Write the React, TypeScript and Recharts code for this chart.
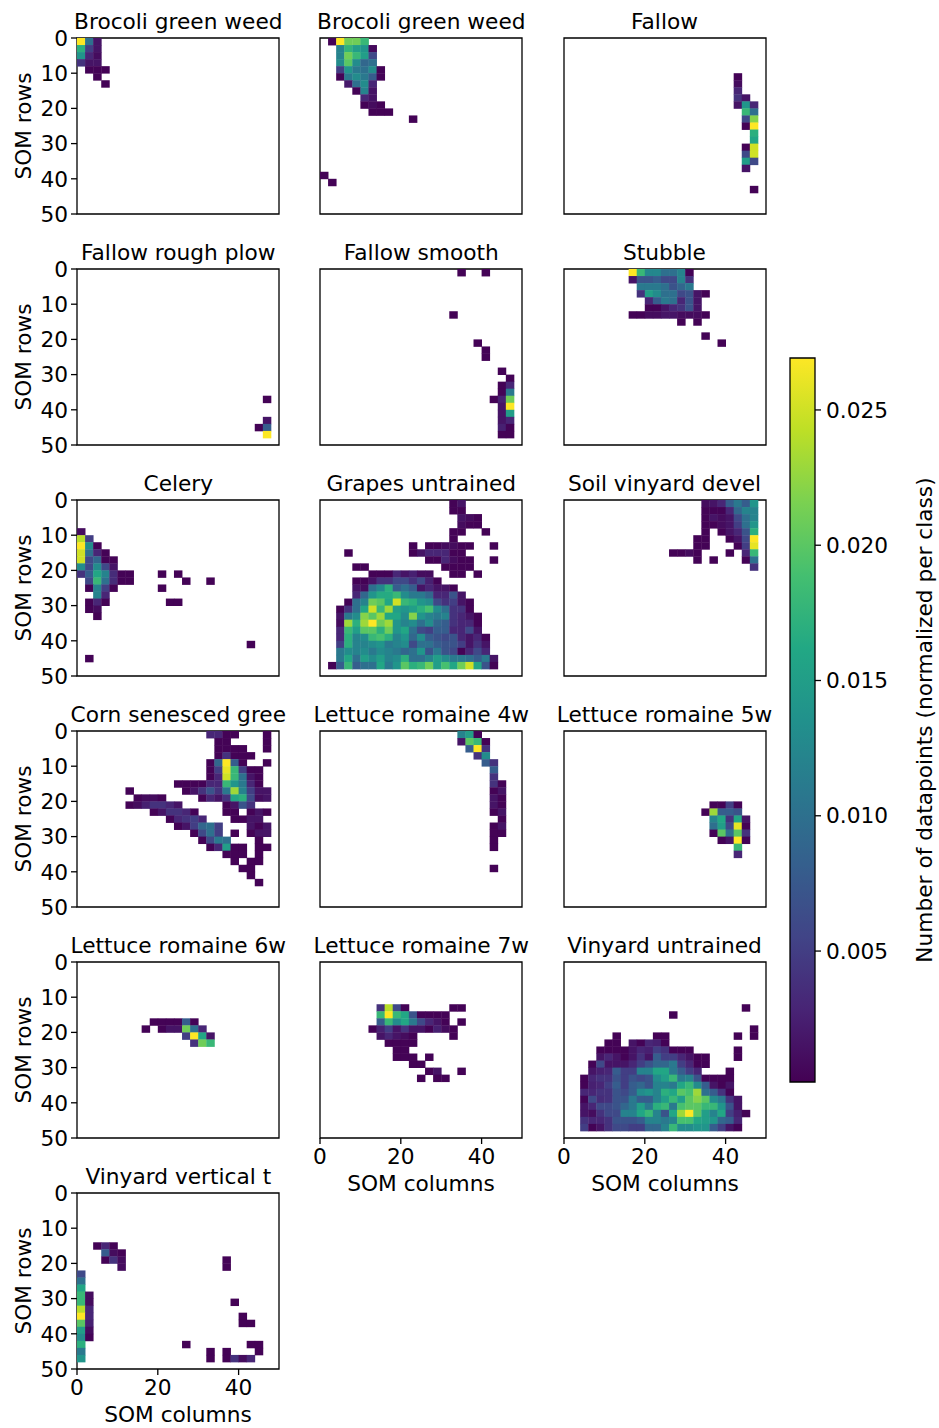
import { ScatterChart, Scatter, XAxis, YAxis, ReferenceArea } from "recharts";

// each entry: [row, first column, ...values], values in units of 0.001
type Run = number[];

const titles = [
  "Brocoli green weed", "Brocoli green weed", "Fallow",
  "Fallow rough plow", "Fallow smooth", "Stubble",
  "Celery", "Grapes untrained", "Soil vinyard devel",
  "Corn senesced gree", "Lettuce romaine 4w", "Lettuce romaine 5w",
  "Lettuce romaine 6w", "Lettuce romaine 7w", "Vinyard untrained",
  "Vinyard vertical t",
];

const brocoli1: Run[] = [
  [0, 0, 27, 10, 1.6], [1, 0, 17, 5, 1.6], [2, 0, 14, 3, 1], [3, 0, 4, 1.6, 1.6],
  [4, 1, 0.3, 0.3, 0.3], [5, 2, 0.3], [6, 3, 0.3],
];
const brocoli2: Run[] = [
  [0, 1, 0.3, 27, 21, 21, 18], [1, 2, 12, 17.5, 15, 14, 0.8], [2, 2, 12, 21, 18, 15, 6],
  [3, 2, 13, 20, 13, 9, 10], [4, 2, 5, 14, 11, 10, 13, 0.3], [5, 2, 0.3, 11, 13, 11, 8, 0.3],
  [6, 3, 2, 10, 13, 3], [7, 4, 0.3, 12, 1.6], [8, 5, 3, 1.6], [9, 5, 0.3, 1, 0.3],
  [10, 6, 0.3, 0.3, 0.3], [11, 11, 0.3], [19, 0, 0.3], [20, 1, 0.3],
];
const fallow: Run[] = [
  [5, 21, 0.3], [6, 21, 1], [7, 21, 3], [8, 21, 4, 1.6], [9, 21, 1.6, 14, 3], [10, 22, 18, 10],
  [11, 22, 6, 22], [12, 22, 0.3, 27], [13, 23, 17], [14, 23, 16], [15, 22, 0.3, 25],
  [16, 22, 6, 25], [17, 22, 15, 6], [18, 22, 1.6], [21, 23, 0.3],
];
const fallowRough: Run[] = [[18, 23, 0.3], [21, 23, 1.6], [22, 22, 0.3, 8], [23, 23, 27]];
const fallowSmooth: Run[] = [
  [0, 17, 0.3], [0, 20, 0.3], [6, 16, 0.3], [10, 19, 0.3], [11, 20, 0.3], [12, 20, 0.3],
  [14, 22, 0.3], [15, 23, 0.3], [16, 22, 0.3, 3], [17, 22, 0.3, 11], [18, 21, 0.3, 2.5, 21],
  [19, 22, 1.6, 27], [20, 22, 1.6, 15], [21, 22, 1.6, 3], [22, 22, 2.5, 0.3], [23, 22, 0.3, 0.3],
];
const stubble: Run[] = [
  [0, 8, 27, 18, 12.5, 12.5, 10, 10, 12, 0.3], [1, 8, 1.6, 7, 7, 8, 6, 6, 12, 4],
  [2, 9, 11, 11, 11, 10, 7, 9, 11], [3, 9, 4, 15, 13, 10, 10, 6, 7, 1.6, 0.3],
  [4, 10, 3, 8, 11, 10, 3, 7, 1.6], [5, 10, 0.3, 0.3, 1.6, 3, 4, 7, 1.6],
  [6, 8, 0.3, 0.3, 1, 1, 1.6, 1.6, 1, 1, 1, 0.3], [7, 14, 0.3], [7, 16, 0.3], [9, 17, 0.3], [10, 19, 0.3],
];
const celery: Run[] = [
  [4, 0, 1], [5, 0, 24, 5], [6, 0, 27, 13, 0.3], [7, 0, 25, 10, 3, 0.3], [8, 0, 25, 6, 9, 0.3, 0.3],
  [9, 0, 13, 6, 13, 6, 1.6], [10, 0, 4, 8, 16, 12, 3.5, 0.3, 0.3], [10, 10, 0.3], [10, 12, 0.3],
  [11, 1, 6, 18, 10, 3.5, 0.3, 0.3], [11, 13, 0.3], [11, 16, 0.3], [12, 1, 0.3, 12, 5, 0.3], [12, 10, 0.3],
  [13, 2, 12, 3], [14, 1, 0.3, 3, 0.3], [14, 11, 0.3, 0.3], [15, 1, 0.3, 1], [16, 2, 0.3], [20, 21, 0.3], [22, 1, 0.3],
];
const grapes: Run[] = [
  [0, 16, 0.3, 1.6], [1, 16, 0.3, 0.3], [2, 17, 1.6, 1, 0.3], [3, 17, 1, 0.3, 0.3], [4, 16, 0.3, 0.3], [4, 20, 0.3],
  [5, 16, 0.3], [6, 11, 0.3], [6, 13, 0.3, 0.3, 1, 1, 0.3, 0.3], [6, 21, 0.3], [7, 3, 0.3],
  [7, 11, 0.3, 1.6, 3, 3, 3, 0.3, 0.3], [8, 13, 0.3, 0.3, 3, 1, 0.3, 0.3], [8, 21, 0.3],
  [9, 4, 0.3, 0.3], [9, 15, 0.3, 0.3, 0.3, 0.3], [10, 6, 0.3, 0.3, 0.3, 3, 1.6, 2.5, 1, 1], [10, 16, 0.3, 0.3], [10, 19, 0.3],
  [11, 4, 0.3, 0.3, 1.6, 4, 4, 6, 6, 4, 6, 2.5, 0.3],
  [12, 4, 1.6, 1, 10, 12.5, 17, 8, 10, 8, 1.6, 3, 1.6, 1.6, 0.3],
  [13, 4, 3, 9, 14, 16.5, 16.5, 18, 13, 11, 11, 9, 3, 3, 7, 1.6],
  [14, 3, 0.3, 10, 12, 21, 20, 16, 25, 18, 17, 14, 13, 6, 4, 5, 1.6, 0.3],
  [15, 2, 0.3, 4, 10, 16, 25, 18, 23, 15, 14, 15, 17, 19, 13, 10, 4, 4, 0.3],
  [16, 2, 1.6, 11, 13, 22, 20, 23, 16, 16, 13, 22, 14, 12, 11, 12, 4, 3, 1.6, 0.3],
  [17, 2, 1, 23, 17, 23, 27, 21, 23, 14, 12, 13, 10, 13, 9, 8, 4, 3, 3, 0.3],
  [18, 2, 3, 18, 15, 20, 20, 17, 21, 14, 16, 10, 6, 5, 8, 8, 3, 3, 6, 1.6],
  [19, 2, 3, 17, 12, 13, 18, 19, 17, 12, 14, 9, 13, 8, 7, 6, 7, 3, 1.6, 3, 0.3],
  [20, 2, 5, 17, 12, 12, 13, 14, 11, 12, 13, 6, 10, 10, 8, 7, 7, 5, 1.6, 4, 1.6],
  [21, 2, 11, 13, 12, 13, 11, 13, 12, 11, 9, 10, 14, 7, 11, 7, 6, 0.3, 3, 6, 3],
  [22, 2, 11, 16, 10, 15, 13, 15, 12, 13, 17, 10, 10, 12, 15, 13, 11, 11, 10, 8, 11, 1.6],
  [23, 1, 0.3, 8, 18, 8, 10, 10, 16, 11, 14, 20, 17, 18, 21, 15, 19, 16, 21, 25, 16, 7, 0.3],
];
const soilVinyard: Run[] = [
  [0, 17, 1, 1.6, 3, 8, 11, 8, 14], [1, 17, 0.3, 0.3, 0.3, 3, 9, 12, 12], [2, 17, 0.3, 1.6, 1, 1.6, 6, 10, 12],
  [3, 17, 0.3, 0.3, 1, 1.6, 5, 10, 14], [4, 17, 0.3], [4, 19, 0.3, 1.6, 3, 7, 17], [5, 16, 0.3, 0.3], [5, 20, 0.3, 1.6, 6, 27],
  [6, 16, 0.3, 0.3], [6, 21, 0.3, 5, 26], [7, 13, 0.3, 0.3, 1, 0.3], [7, 20, 0.3], [7, 22, 3, 18],
  [8, 16, 0.3], [8, 18, 0.3], [8, 22, 0.3, 10], [9, 23, 4],
];
const corn: Run[] = [
  [0, 16, 3, 3, 0.3, 0.3], [0, 23, 0.3], [1, 17, 0.3, 0.3], [1, 23, 0.3], [2, 17, 0.3, 0.3, 0.3, 0.3], [2, 23, 0.3],
  [3, 17, 0.3, 4, 0.3, 0.3, 0.3], [4, 16, 0.3, 9, 27, 8, 0.3], [4, 23, 0.3], [5, 16, 0.3, 5, 26, 18, 5, 0.3, 0.3],
  [6, 16, 0.3, 3, 25, 18, 10, 1.6, 0.3], [7, 12, 0.3, 0.3, 0.3, 0.3, 3, 3, 18, 14, 11, 3, 0.3],
  [8, 6, 0.3], [8, 13, 0.3, 1.6, 4, 7, 4, 11, 23, 12, 5, 1.6, 1.6],
  [9, 7, 0.3, 1, 1, 0.3], [9, 15, 0.3, 3, 1.6, 4, 16, 17, 6, 1, 1.6],
  [10, 6, 0.3, 1, 2.5, 4, 4, 3, 1.6], [10, 18, 0.3, 1.6, 7, 4],
  [11, 9, 0.3, 1.6, 4, 4, 3, 0.3], [11, 18, 0.3, 0.3], [11, 21, 0.3, 1.6, 0.3],
  [12, 11, 0.3, 3, 4, 5, 3], [12, 19, 0.3, 0.3, 1.6, 1.6], [13, 12, 0.3, 1.6, 5, 9, 10, 5], [13, 21, 1.6, 0.3, 1.6],
  [14, 14, 0.3, 6, 10, 5], [14, 19, 0.3], [14, 21, 0.3, 1.6, 1.6], [15, 15, 0.3, 6, 11, 10], [15, 22, 0.3],
  [16, 16, 0.3, 3, 15, 0.3, 0.3], [16, 22, 0.3, 0.3], [17, 18, 0.3, 0.3, 0.3], [17, 22, 0.3],
  [18, 19, 0.3], [18, 21, 0.3, 0.3], [19, 20, 0.3, 0.3], [20, 21, 0.3], [21, 22, 0.3],
];
const lettuce4w: Run[] = [
  [0, 17, 12, 15, 0.3], [1, 17, 1.6, 20, 18, 0.3], [2, 18, 8, 27, 4], [3, 19, 4, 13], [4, 20, 8, 4], [5, 21, 8],
  [6, 21, 4], [7, 21, 4, 0.3], [8, 21, 0.3, 1.6], [9, 21, 1.6, 0.3], [10, 21, 1.6, 0.3], [11, 21, 0.3, 1.6],
  [12, 22, 0.3], [13, 21, 0.3, 1.6], [14, 21, 0.3, 0.3], [15, 21, 0.3], [16, 21, 0.3], [19, 21, 0.3],
];
const lettuce5w: Run[] = [
  [10, 18, 0.3, 0.3, 5, 0.3], [11, 17, 0.3, 23, 8, 8, 7], [12, 18, 12, 16, 4, 16, 1.6], [13, 18, 10, 15, 6, 26, 0.3],
  [14, 18, 0.3, 20, 10, 20, 4], [15, 19, 0.3, 1.6, 27, 0.3], [16, 21, 18], [17, 21, 3],
];
const lettuce6w: Run[] = [
  [8, 9, 0.3, 0.3, 0.3, 0.3, 8, 0.3], [9, 8, 0.3], [9, 10, 0.3, 1.6, 1.6, 21, 10, 3], [10, 13, 5, 27, 16, 1.6], [11, 14, 4, 21, 18],
];
const lettuce7w: Run[] = [
  [6, 7, 4, 24, 6, 0.3], [6, 16, 0.3, 0.3], [7, 7, 18, 27, 18, 16, 7, 0.3, 0.3, 0.3, 0.3],
  [8, 7, 8, 18, 13, 16, 11, 6, 3, 1.6, 0.3], [8, 17, 0.3], [9, 6, 0.3, 2.5, 5, 1.6, 4, 1.6, 1.6, 0.3, 2.5, 1, 0.3],
  [10, 7, 1.6, 3, 1.6, 1, 0.3], [10, 16, 0.3], [11, 8, 0.3, 0.3, 0.3, 0.3], [12, 9, 0.3, 0.3],
  [13, 9, 0.3, 0.3, 0.3], [13, 13, 0.3], [14, 11, 0.3, 0.3], [15, 13, 0.3, 1.6], [15, 17, 0.3], [16, 12, 0.3], [16, 14, 0.3, 0.3],
];
const vinyardUntrained: Run[] = [
  [6, 22, 0.3], [7, 13, 0.3], [9, 23, 0.3], [10, 6, 0.3], [10, 11, 0.3, 0.3], [10, 21, 0.3], [10, 23, 0.3],
  [11, 5, 0.3, 0.3], [11, 8, 1.6, 0.3, 3, 2.5, 0.3],
  [12, 4, 0.3, 0.3, 0.3, 0.3, 1.6, 3, 2.5, 5, 4, 0.3, 0.3, 0.3], [12, 21, 0.3],
  [13, 4, 1.6, 3, 1.6, 0.3, 1.6, 4, 1.6, 8, 5, 5, 3, 1.6, 0.3, 0.3], [13, 21, 0.3],
  [14, 3, 0.3, 6, 1.6, 1.6, 1.6, 3, 5, 7, 9, 9, 11, 5, 3, 0.3, 0.3],
  [15, 3, 1.6, 2.5, 3, 8, 5, 5, 12, 12, 16, 16, 11, 8, 5, 3], [15, 20, 0.3],
  [16, 2, 0.3, 3, 4, 4, 7, 5, 7, 6, 7, 13, 15, 18, 11, 12, 7, 0.3, 0.3, 0.3, 0.3],
  [17, 2, 0.3, 2.5, 3, 5, 8, 5, 8, 9, 7, 12, 12, 11, 16, 18, 13, 8, 1.6, 0.3, 1.6],
  [18, 2, 3, 3, 4, 4, 7, 6, 8, 13, 14, 12, 17, 16, 20, 19, 23, 10, 8, 4, 0.3],
  [19, 2, 0.3, 6, 3.5, 4, 7, 7, 11, 8, 8, 12, 15, 18, 15, 20, 22, 20, 13, 11, 4, 1.6],
  [20, 2, 1.6, 3, 6, 6, 7, 9, 11, 15, 11, 17, 18, 11, 19, 20, 20, 18, 18, 14, 7, 1.6],
  [21, 2, 1.6, 1, 4, 6, 6, 12, 12, 16, 18, 12, 7, 16, 23, 27, 20, 15, 12, 16, 5, 2.5, 0.3],
  [22, 2, 4, 3, 3, 4, 7, 7, 7, 8, 12, 12, 11, 12, 19, 19, 16, 15, 14, 9, 8, 3],
  [23, 2, 5, 0.3, 1.6, 4, 6, 6, 5, 5, 9, 9, 12, 18, 13, 13, 14, 14, 8, 5, 1.6, 0.3],
];
const vinyardVertical: Run[] = [
  [7, 2, 0.3, 3, 0.3], [8, 3, 8, 1, 0.3], [9, 3, 0.3, 4, 1], [9, 18, 0.3], [10, 5, 1], [10, 18, 0.3],
  [11, 0, 6], [12, 0, 10], [13, 0, 16], [14, 0, 18, 1], [15, 0, 18, 1], [15, 19, 0.3], [16, 0, 24, 3],
  [17, 0, 27, 3], [17, 20, 0.3], [18, 0, 20, 2.5], [18, 20, 0.3, 0.3], [19, 0, 15, 1], [20, 0, 13, 0.3],
  [21, 0, 17], [21, 13, 0.3], [21, 21, 0.3, 0.3], [22, 0, 11], [22, 16, 0.3], [22, 18, 0.3], [22, 22, 0.3],
  [23, 0, 14], [23, 16, 0.3], [23, 18, 0.3, 4, 1, 3],
];

const panelRuns = [
  brocoli1, brocoli2, fallow, fallowRough, fallowSmooth, stubble, celery, grapes, soilVinyard,
  corn, lettuce4w, lettuce5w, lettuce6w, lettuce7w, vinyardUntrained, vinyardVertical,
];

const rowTicks = [0, 10, 20, 30, 40, 50];
const colTicks = [0, 20, 40];
const barTicks = [0.005, 0.01, 0.015, 0.02, 0.025];
const barMin = 0.00016;
const barMax = 0.02692;
const viridis = [
  "#440154", "#482475", "#414487", "#355f8d", "#2a788e", "#21918c",
  "#22a884", "#44bf70", "#7ad151", "#bddf26", "#fde725",
];

const FONT = "'DejaVu Sans', sans-serif";
const FS = 21.7;
const PW = 202;
const PH = 176;
const AXIS_W = 77;
const TOP = 12;
const columnsX = [77.3, 320.3, 563.5];
const rowsY = [38, 269, 500, 731, 962, 1193];

function hexRgb(h: string) {
  return [1, 3, 5].map((i) => parseInt(h.slice(i, i + 2), 16));
}

function colorOf(v: number) {
  const t = Math.max(0, Math.min(1, (v - barMin * 1000) / ((barMax - barMin) * 1000))) * 10;
  const i = Math.min(9, Math.floor(t));
  const a = hexRgb(viridis[i]);
  const b = hexRgb(viridis[i + 1]);
  const f = t - i;
  return `rgb(${a.map((c, k) => Math.round(c + (b[k] - c) * f)).join(",")})`;
}

function toCells(runs: Run[]) {
  const out: { x: number; y: number; v: number }[] = [];
  runs.forEach(([row, col, ...vals]) => {
    vals.forEach((v, i) => out.push({ x: (col + i) * 2 + 1, y: row * 2 + 1, v }));
  });
  return out;
}

function CellShape(props: any) {
  const w = PW / 25;
  const h = PH / 25;
  return (
    <rect
      x={props.cx - w / 2}
      y={props.cy - h / 2}
      width={w + 0.4}
      height={h + 0.4}
      fill={colorOf(props.payload.v)}
    />
  );
}

function Panel({ index }: { index: number }) {
  const col = index % 3;
  const row = Math.floor(index / 3);
  const showY = col === 0;
  const showX = index >= 13;
  const cells = toCells(panelRuns[index]);
  const left = columnsX[col];
  const top = rowsY[row];
  return (
    <>
      <div
        style={{
          position: "absolute",
          left: left - 60,
          width: PW + 120,
          top: top - 29,
          textAlign: "center",
          fontFamily: FONT,
          fontSize: FS,
          lineHeight: "26px",
          whiteSpace: "nowrap",
          color: "#000",
        }}
      >
        {titles[index]}
      </div>
      <div style={{ position: "absolute", left: left - AXIS_W, top: top - TOP }}>
        <ScatterChart
          width={AXIS_W + PW + 14}
          height={TOP + PH + 62}
          margin={{ top: TOP, right: 14, bottom: 0, left: 0 }}
        >
          <XAxis
            type="number"
            dataKey="x"
            domain={[0, 50]}
            ticks={showX ? colTicks : []}
            interval={0}
            height={62}
            axisLine={false}
            tickLine={showX ? { stroke: "#000", strokeWidth: 1.3 } : false}
            tick={showX ? { fill: "#000", fontSize: FS, fontFamily: FONT } : false}
            tickSize={6}
            tickMargin={5}
            label={
              showX
                ? { value: "SOM columns", position: "insideTop", offset: 38, fill: "#000", fontSize: FS, fontFamily: FONT }
                : undefined
            }
          />
          <YAxis
            type="number"
            dataKey="y"
            reversed
            domain={[0, 50]}
            ticks={showY ? rowTicks : []}
            interval={0}
            width={AXIS_W}
            axisLine={false}
            tickLine={showY ? { stroke: "#000", strokeWidth: 1.3 } : false}
            tick={showY ? { fill: "#000", fontSize: FS, fontFamily: FONT } : false}
            tickSize={6}
            tickMargin={3}
            label={
              showY
                ? {
                    value: "SOM rows",
                    angle: -90,
                    position: "insideLeft",
                    offset: 23,
                    fill: "#000",
                    fontSize: FS,
                    fontFamily: FONT,
                    style: { textAnchor: "middle" },
                  }
                : undefined
            }
          />
          <Scatter data={cells} shape={CellShape} isAnimationActive={false} />
          <ReferenceArea x1={0} x2={50} y1={0} y2={50} fill="none" stroke="#000" strokeWidth={1.3} />
        </ScatterChart>
      </div>
    </>
  );
}

function ColorBar() {
  // tick values keep the axes alive; nothing is drawn for them
  const anchors = barTicks.map((y) => ({ x: 0.5, y }));
  return (
    <div style={{ position: "absolute", left: 780, top: 346 }}>
      <ScatterChart width={159} height={748} margin={{ top: 12, right: 0, bottom: 12, left: 10 }}>
        <defs>
          <linearGradient id="viridisBar" x1="0" y1="1" x2="0" y2="0">
            {viridis.map((c, i) => (
              <stop key={c} offset={`${i * 10}%`} stopColor={c} />
            ))}
          </linearGradient>
        </defs>
        <XAxis type="number" dataKey="x" domain={[0, 1]} hide />
        <YAxis
          type="number"
          dataKey="y"
          orientation="right"
          domain={[barMin, barMax]}
          ticks={barTicks}
          interval={0}
          width={124}
          axisLine={false}
          tickLine={{ stroke: "#000", strokeWidth: 1.3 }}
          tick={{ fill: "#000", fontSize: FS, fontFamily: FONT }}
          tickSize={6}
          tickMargin={5}
          tickFormatter={(v: number) => v.toFixed(3)}
          label={{
            value: "Number of datapoints (normalized per class)",
            angle: -90,
            position: "insideRight",
            offset: 15,
            fill: "#000",
            fontSize: FS,
            fontFamily: FONT,
            style: { textAnchor: "middle" },
          }}
        />
        <Scatter data={anchors} shape={() => <g />} isAnimationActive={false} />
        <ReferenceArea
          x1={0}
          x2={1}
          y1={barMin}
          y2={barMax}
          fill="url(#viridisBar)"
          fillOpacity={1}
          stroke="#000"
          strokeWidth={1.3}
        />
      </ScatterChart>
    </div>
  );
}

export default function App() {
  return (
    <div style={{ position: "absolute", left: 0, top: 0, width: 939, height: 1428, background: "#fff", overflow: "hidden" }}>
      {titles.map((t, i) => (
        <Panel key={i} index={i} />
      ))}
      <ColorBar />
    </div>
  );
}
